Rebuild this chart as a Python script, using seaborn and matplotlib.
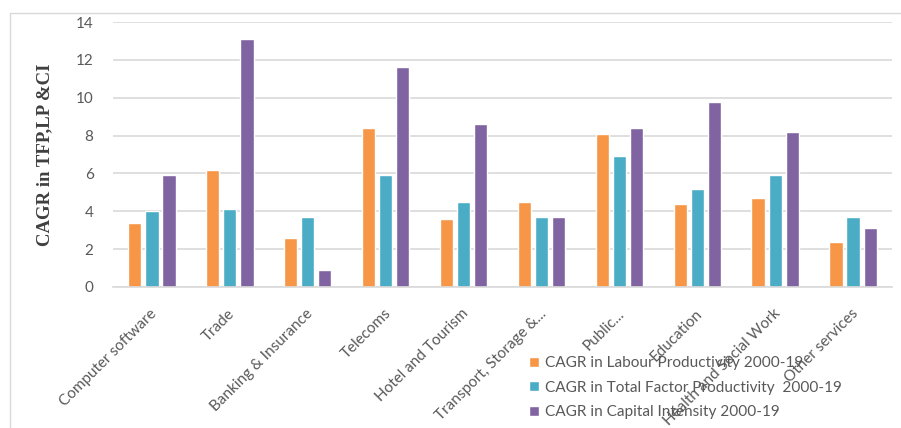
import matplotlib
matplotlib.use("Agg")
import matplotlib.pyplot as plt
import matplotlib.lines as mlines
import matplotlib.transforms as mtransforms
import seaborn as sns
import pandas as pd

categories = ["Computer software", "Trade", "Banking & Insurance", "Telecoms",
              "Hotel and Tourism", "Transport, Storage &...", "Public...",
              "Education", "Health and Social Work", "Other services"]
series_names = ["CAGR in Labour Productivity 2000-19",
                "CAGR in Total Factor Productivity  2000-19",
                "CAGR in Capital Intensity 2000-19"]
labour_productivity = [3.4, 6.2, 2.6, 8.4, 3.6, 4.5, 8.1, 4.4, 4.7, 2.4]
total_factor_productivity = [4.0, 4.1, 3.7, 5.9, 4.5, 3.7, 6.9, 5.2, 5.9, 3.7]
capital_intensity = [5.9, 13.1, 0.9, 11.6, 8.6, 3.7, 8.4, 9.8, 8.2, 3.1]
y_ticks = [0, 2, 4, 6, 8, 10, 12, 14]

colors = ["#F79646", "#4BACC6", "#8064A2"]

df = pd.DataFrame({
    "Sector": categories * 3,
    "Series": [series_names[0]] * 10 + [series_names[1]] * 10 + [series_names[2]] * 10,
    "Value": labour_productivity + total_factor_productivity + capital_intensity,
})

sns.set_theme(style="white")
plt.rcParams["font.family"] = ["Lato", "DejaVu Sans"]

fig = plt.figure(figsize=(9.01, 4.28), dpi=100)
ax = fig.add_axes([113 / 901, 1 - 287 / 428, (892 - 113) / 901, (287 - 22) / 428])

sns.barplot(data=df, x="Sector", y="Value", hue="Series", order=categories,
            hue_order=series_names, palette=colors, width=0.66, gap=0.23,
            saturation=1, ax=ax, legend=True)

ax.set_ylim(0, 14)
ax.set_xlim(-0.5, len(categories) - 0.5)
ax.set_yticks(y_ticks)
ax.set_yticklabels([str(t) for t in y_ticks], color="#595959", fontsize=11)
ax.yaxis.grid(True, color="#d9d9d9", linewidth=1.2)
ax.set_axisbelow(True)
for side in ["top", "right", "left"]:
    ax.spines[side].set_visible(False)
ax.spines["bottom"].set_color("#d9d9d9")
ax.spines["bottom"].set_linewidth(1.2)
ax.tick_params(axis="y", length=0, pad=14)

ax.set_xticks(range(len(categories)))
ax.set_xticklabels(categories, rotation=45, ha="right", rotation_mode="anchor",
                   color="#595959", fontsize=11)
ax.tick_params(axis="x", length=0, pad=14)
shift = mtransforms.ScaledTranslation(-2 / 100, 0, fig.dpi_scale_trans)
for lbl in ax.get_xticklabels():
    lbl.set_transform(lbl.get_transform() + shift)

ax.set_xlabel("")
ax.set_ylabel("CAGR in TFP,LP &CI", family=["Liberation Serif"], fontweight="bold",
              fontsize=13.5, color="#404040", labelpad=16)

handles, labels = ax.get_legend_handles_labels()
ax.get_legend().remove()
fig.legend(handles, labels, loc="upper left", bbox_to_anchor=(0.572, 0.2),
           frameon=False, fontsize=11.1, handlelength=0.65, handleheight=0.65,
           handletextpad=0.35, labelspacing=0.68, labelcolor="#595959")

# chart-area border on the top and left edges
fig.add_artist(mlines.Line2D([10 / 901, 10 / 901], [0, 1 - 13 / 428],
                             transform=fig.transFigure, color="#d9d9d9", linewidth=1))
fig.add_artist(mlines.Line2D([10 / 901, 1], [1 - 13 / 428, 1 - 13 / 428],
                             transform=fig.transFigure, color="#d9d9d9", linewidth=1))

fig.savefig("out.png", dpi=100, facecolor="white")
